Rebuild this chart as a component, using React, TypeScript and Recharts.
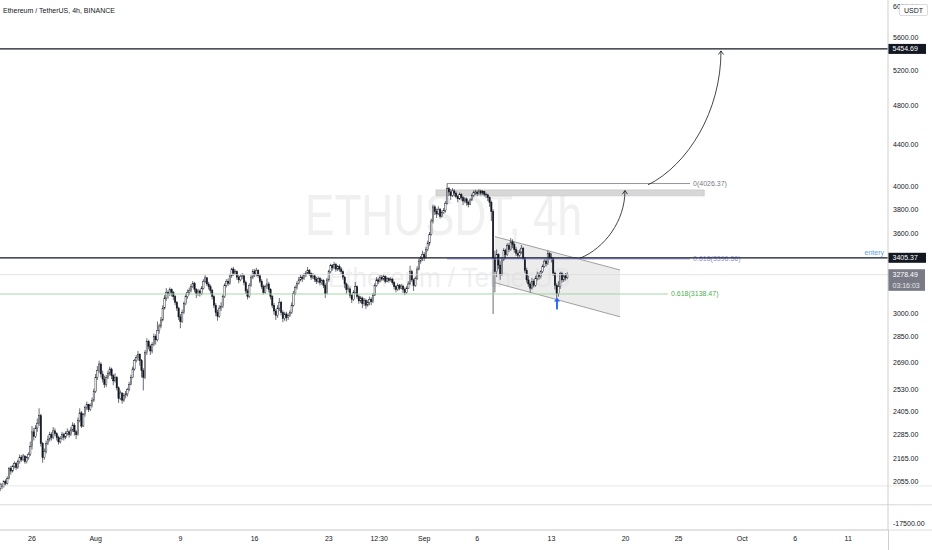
import React from 'react';
import { ComposedChart, Bar, Area, XAxis, YAxis, ReferenceLine, ReferenceArea } from 'recharts';

// time unit: days since 1 Jul 00:00; candles are 4h (1/6 day) starting 23 Jul 00:00
const startDay = 22;
const candleStep = 1 / 6;
const firstOpen = 2025;

const closes = [
  2040, 2032, 2055, 2048, 2070, 2118, // Jul 23
  2105, 2128, 2140, 2122, 2150, 2172, // Jul 24
  2160, 2178, 2150, 2170, 2185, 2225, // Jul 25
  2300, 2275, 2320, 2345, 2385, 2240, // Jul 26
  2170, 2200, 2240, 2262, 2285, 2270, // Jul 27
  2305, 2290, 2270, 2248, 2265, 2285, // Jul 28
  2272, 2290, 2300, 2285, 2310, 2335, // Jul 29
  2300, 2285, 2360, 2400, 2330, 2390, // Jul 30
  2430, 2445, 2418, 2440, 2470, 2520, // Jul 31
  2600, 2640, 2680, 2620, 2590, 2560, // Aug 1
  2600, 2625, 2650, 2610, 2580, 2600, // Aug 2
  2540, 2480, 2510, 2470, 2495, 2505, // Aug 3
  2530, 2560, 2600, 2650, 2700, 2720, // Aug 4
  2740, 2700, 2640, 2600, 2750, 2820, // Aug 5
  2790, 2760, 2800, 2850, 2830, 2890, // Aug 6
  2920, 2960, 3040, 3110, 3150, 3140, // Aug 7
  3170, 3150, 3120, 3080, 3040, 2980, // Aug 8
  2950, 3010, 3070, 3120, 3150, 3165, // Aug 9
  3190, 3215, 3170, 3140, 3160, 3142, // Aug 10
  3180, 3230, 3255, 3210, 3190, 3165, // Aug 11
  3120, 3060, 3010, 2985, 3040, 3050, // Aug 12
  3120, 3200, 3230, 3215, 3270, 3320, // Aug 13
  3290, 3300, 3260, 3240, 3265, 3270, // Aug 14
  3220, 3160, 3120, 3200, 3260, 3300, // Aug 15
  3280, 3310, 3270, 3230, 3190, 3150, // Aug 16
  3190, 3210, 3170, 3120, 3060, 3020, // Aug 17
  2990, 3040, 3080, 3010, 2970, 3000, // Aug 18
  2975, 2990, 3010, 3060, 3140, 3185, // Aug 19
  3215, 3240, 3260, 3250, 3275, 3290, // Aug 20
  3310, 3285, 3260, 3270, 3245, 3230, // Aug 21
  3250, 3220, 3235, 3200, 3140, 3240, // Aug 22
  3300, 3345, 3330, 3355, 3320, 3340, // Aug 23
  3320, 3300, 3260, 3210, 3170, 3175, // Aug 24
  3130, 3100, 3150, 3190, 3120, 3090, // Aug 25
  3110, 3070, 3095, 3060, 3080, 3100, // Aug 26
  3085, 3130, 3200, 3240, 3230, 3260, // Aug 27
  3245, 3265, 3230, 3250, 3235, 3245, // Aug 28
  3220, 3190, 3170, 3200, 3180, 3195, // Aug 29
  3170, 3150, 3180, 3210, 3300, 3240, // Aug 30
  3200, 3250, 3320, 3380, 3400, 3430, // Aug 31
  3410, 3470, 3520, 3590, 3700, 3820, // Sep 1
  3780, 3760, 3800, 3740, 3770, 3790, // Sep 2
  3850, 3980, 3950, 3920, 3960, 3940, // Sep 3
  3910, 3890, 3930, 3900, 3870, 3890, // Sep 4
  3860, 3840, 3880, 3920, 3945, 3950, // Sep 5
  3935, 3960, 3940, 3955, 3930, 3925, // Sep 6
  3900, 3860, 3780, 3400, 3300, 3430, // Sep 7
  3350, 3280, 3390, 3460, 3430, 3500, // Sep 8
  3470, 3530, 3510, 3470, 3440, 3425, // Sep 9
  3450, 3480, 3400, 3310, 3240, 3210, // Sep 10
  3180, 3230, 3200, 3250, 3280, 3265, // Sep 11
  3300, 3340, 3380, 3360, 3440, 3410, // Sep 12
  3400, 3290, 3200, 3140, 3190, 3285, // Sep 13
  3240, 3270, 3255, 3278.49,          // Sep 14
];

const highs = [
  2050, 2048, 2062, 2066, 2080, 2125,
  2130, 2135, 2152, 2148, 2160, 2185,
  2182, 2188, 2180, 2178, 2196, 2250,
  2330, 2320, 2335, 2370, 2425, 2395,
  2248, 2215, 2255, 2280, 2300, 2298,
  2325, 2318, 2298, 2280, 2278, 2300,
  2295, 2302, 2318, 2310, 2325, 2350,
  2345, 2310, 2375, 2425, 2410, 2400,
  2440, 2462, 2450, 2452, 2485, 2535,
  2620, 2668, 2700, 2690, 2640, 2610,
  2615, 2640, 2665, 2658, 2620, 2625,
  2608, 2548, 2525, 2515, 2510, 2522,
  2540, 2575, 2615, 2665, 2712, 2735,
  2760, 2745, 2710, 2655, 2765, 2840,
  2830, 2800, 2815, 2870, 2865, 2950,
  2935, 2980, 3060, 3130, 3180, 3165,
  3185, 3178, 3160, 3130, 3090, 3050,
  3000, 3030, 3085, 3140, 3170, 3185,
  3210, 3232, 3225, 3180, 3175, 3170,
  3195, 3245, 3275, 3262, 3225, 3205,
  3175, 3130, 3075, 3030, 3060, 3080,
  3135, 3215, 3245, 3250, 3285, 3330,
  3335, 3318, 3310, 3275, 3280, 3290,
  3280, 3235, 3175, 3215, 3275, 3320,
  3320, 3330, 3318, 3285, 3245, 3205,
  3205, 3250, 3225, 3180, 3130, 3075,
  3035, 3060, 3110, 3090, 3025, 3015,
  3015, 3005, 3025, 3080, 3160, 3200,
  3230, 3262, 3280, 3275, 3290, 3305,
  3335, 3320, 3295, 3290, 3280, 3262,
  3265, 3262, 3250, 3245, 3215, 3255,
  3315, 3360, 3358, 3375, 3365, 3350,
  3355, 3335, 3310, 3270, 3220, 3200,
  3190, 3140, 3165, 3225, 3200, 3135,
  3125, 3120, 3110, 3105, 3095, 3120,
  3115, 3145, 3215, 3260, 3255, 3275,
  3275, 3280, 3272, 3262, 3258, 3260,
  3255, 3230, 3200, 3215, 3210, 3210,
  3205, 3185, 3195, 3230, 3345, 3315,
  3250, 3265, 3340, 3400, 3420, 3460,
  3450, 3490, 3540, 3610, 3720, 3840,
  3835, 3805, 3825, 3810, 3790, 3810,
  3870, 4026.37, 3995, 3975, 3985, 3975,
  3955, 3925, 3945, 3940, 3915, 3905,
  3900, 3875, 3895, 3935, 3965, 3970,
  3965, 3975, 3970, 3968, 3962, 3945,
  3935, 3910, 3875, 3800, 3460, 3470,
  3440, 3380, 3410, 3480, 3475, 3520,
  3520, 3560, 3550, 3525, 3490, 3465,
  3470, 3505, 3490, 3410, 3330, 3270,
  3225, 3255, 3245, 3270, 3300, 3295,
  3310, 3355, 3395, 3400, 3462, 3450,
  3440, 3410, 3300, 3215, 3230, 3300,
  3300, 3285, 3290, 3295,
];

const lows = [
  2012, 2020, 2028, 2038, 2042, 2066,
  2088, 2098, 2118, 2110, 2115, 2140,
  2150, 2152, 2140, 2142, 2160, 2178,
  2210, 2255, 2268, 2300, 2330, 2225,
  2145, 2160, 2190, 2232, 2250, 2255,
  2262, 2278, 2255, 2235, 2240, 2258,
  2255, 2262, 2280, 2270, 2278, 2300,
  2280, 2262, 2280, 2350, 2320, 2325,
  2380, 2415, 2405, 2410, 2430, 2460,
  2510, 2585, 2625, 2600, 2570, 2540,
  2545, 2590, 2610, 2590, 2555, 2570,
  2525, 2455, 2470, 2450, 2460, 2480,
  2490, 2520, 2555, 2595, 2640, 2690,
  2700, 2670, 2600, 2525, 2590, 2735,
  2770, 2735, 2745, 2790, 2800, 2820,
  2870, 2905, 2950, 3030, 3090, 3105,
  3125, 3120, 3095, 3060, 3020, 2960,
  2905, 2940, 3000, 3060, 3105, 3130,
  3150, 3180, 3150, 3110, 3125, 3120,
  3130, 3170, 3215, 3195, 3170, 3140,
  3100, 3040, 2985, 2955, 2975, 3020,
  3040, 3110, 3185, 3195, 3205, 3255,
  3270, 3275, 3240, 3215, 3230, 3245,
  3200, 3140, 3100, 3110, 3190, 3245,
  3260, 3265, 3255, 3215, 3175, 3135,
  3140, 3175, 3150, 3100, 3040, 2995,
  2960, 2975, 3020, 2990, 2945, 2955,
  2950, 2960, 2980, 3000, 3050, 3130,
  3170, 3205, 3230, 3225, 3240, 3260,
  3280, 3270, 3240, 3245, 3225, 3210,
  3215, 3200, 3205, 3180, 3110, 3135,
  3225, 3290, 3310, 3320, 3300, 3305,
  3300, 3280, 3240, 3180, 3140, 3150,
  3110, 3075, 3090, 3140, 3105, 3070,
  3075, 3040, 3055, 3035, 3050, 3060,
  3060, 3075, 3125, 3190, 3210, 3220,
  3230, 3235, 3215, 3222, 3220, 3228,
  3205, 3170, 3150, 3160, 3165, 3172,
  3145, 3130, 3140, 3175, 3205, 3225,
  3160, 3190, 3240, 3310, 3360, 3380,
  3380, 3400, 3455, 3500, 3580, 3680,
  3750, 3725, 3750, 3720, 3730, 3760,
  3770, 3840, 3915, 3880, 3905, 3910,
  3895, 3860, 3880, 3875, 3835, 3850,
  3830, 3815, 3835, 3870, 3905, 3925,
  3915, 3925, 3920, 3925, 3910, 3895,
  3870, 3820, 3700, 3000, 3150, 3260,
  3320, 3240, 3270, 3380, 3400, 3420,
  3450, 3460, 3480, 3445, 3420, 3400,
  3410, 3435, 3390, 3290, 3220, 3190,
  3150, 3170, 3185, 3190, 3235, 3240,
  3250, 3290, 3330, 3340, 3350, 3390,
  3370, 3270, 3170, 3040, 3120, 3175,
  3220, 3225, 3235, 3245,
];

const dateTicks = [25, 31, 39, 46, 53, 57.75, 62, 67, 74, 81, 86, 92, 97, 102];
const dateLabels = ['26', 'Aug', '9', '16', '23', '12:30', 'Sep', '6', '13', '20', '25', 'Oct', '6', '11'];
const priceTicks = [6000, 5600, 5200, 4800, 4400, 4000, 3800, 3600, 3000, 2850, 2690, 2530, 2405, 2285, 2165, 2055];

const xDomain = [21.98, 105.755];
const yDomain = [1843, 6091];

const targetLevel = 5454.69;
const entryLevel = 3405.37;
const lastPrice = 3278.49;
const countdown = '03:16:03';
const fibTop = 4026.37;
const fibBlue = 3396.56;
const fibGreen = 3138.47;
const fibX = [64.15, 87.08];
const greenX = [21.98, 85.0];
const zoneX = [63.11, 88.42];
const zoneY = [3916, 3969];
const channel = [
  { t: 68.68, band: [3219, 3572] },
  { t: 80.47, band: [2981, 3313] },
];
const arrowUp = [{ x: 74.53, y: 3031 }, { x: 74.53, y: 3114 }];
const curve1 = [{ x: 76.7, y: 3402 }, { x: 80.94, y: 3963 }];
const curve2 = [{ x: 83.11, y: 4014 }, { x: 90.0, y: 5430 }];
const paneLine1 = 2036;
const paneLine2 = 1951;
const lowerPaneTick = 1869;
const lowerPaneLabel = '-17500.00';

const candles = closes.map((c, i) => ({
  t: startDay + i * candleStep,
  open: i === 0 ? firstOpen : closes[i - 1],
  close: c,
  high: highs[i],
  low: lows[i],
}));

const FONT = '"Liberation Sans", Arial, sans-serif';
const INK = '#131722';
const W = 932;
const H = 550;

const Candle = (props: any) => {
  const { x, y, width, height, payload } = props;
  if (!payload || y == null || height == null) return null;
  const top = Math.min(y, y + height);
  const bottom = Math.max(y, y + height);
  const lh = Math.log(payload.high);
  const ll = Math.log(payload.low);
  const py = (v: number) => top + ((bottom - top) * (lh - Math.log(v))) / (lh - ll);
  const cx = x + width / 2;
  const up = payload.close >= payload.open;
  const bTop = py(Math.max(payload.open, payload.close));
  const bBot = py(Math.min(payload.open, payload.close));
  const bw = 1.4;
  return (
    <g>
      <line x1={cx} x2={cx} y1={top} y2={bottom} stroke="#2a2e39" strokeWidth={0.7} />
      <rect
        x={cx - bw / 2}
        y={bTop}
        width={bw}
        height={Math.max(bBot - bTop, 0.7)}
        fill={up ? '#ffffff' : INK}
        stroke={INK}
        strokeWidth={0.45}
      />
    </g>
  );
};

const axisTag = (text: string, bg: string) => (props: any) => {
  const vb = props.viewBox || {};
  const x = vb.x + vb.width;
  const y = vb.y;
  return (
    <g>
      <rect x={x} y={y - 5} width={38} height={10} fill={bg} />
      <text x={x + 4.5} y={y + 2.5} fontSize={7} fontFamily={FONT} fill="#ffffff">{text}</text>
    </g>
  );
};

const entryTag = (props: any) => {
  const vb = props.viewBox || {};
  const x = vb.x + vb.width;
  const y = vb.y;
  return (
    <g>
      <text x={x - 4} y={y - 3} fontSize={7} fontFamily={FONT} fill="#5d9fe8" textAnchor="end">entery</text>
      <rect x={x} y={y - 5} width={38} height={10} fill={INK} />
      <text x={x + 4.5} y={y + 2.5} fontSize={7} fontFamily={FONT} fill="#ffffff">{entryLevel.toFixed(2)}</text>
    </g>
  );
};

const lastTag = (props: any) => {
  const vb = props.viewBox || {};
  const x = vb.x + vb.width;
  const y = vb.y;
  return (
    <g>
      <rect x={x} y={y - 5.4} width={37} height={21.6} fill="#787b86" />
      <text x={x + 4.5} y={y + 2.5} fontSize={7} fontFamily={FONT} fill="#ffffff">{lastPrice.toFixed(2)}</text>
      <text x={x + 4.5} y={y + 13} fontSize={7} fontFamily={FONT} fill="#e6e6e6">{countdown}</text>
    </g>
  );
};

const endLabel = (text: string, color: string) => (props: any) => {
  const vb = props.viewBox || {};
  const x = vb.x + vb.width;
  const y = vb.y;
  return (
    <text x={x + 3} y={y + 2.5} fontSize={7} fontFamily={FONT} fill={color}>{text}</text>
  );
};

const lowerPaneText = (props: any) => {
  const vb = props.viewBox || {};
  const x = vb.x + vb.width;
  return (
    <text x={x + 5} y={vb.y + 2.5} fontSize={7} fontFamily={FONT} fill={INK}>{lowerPaneLabel}</text>
  );
};

// pane borders run across the whole page width, price scale included
const wideLine = (color: string) => (props: any) => (
  <line x1={0} y1={props.y1} x2={W} y2={props.y2} stroke={color} strokeWidth={0.8} />
);

const curvedArrow = (props: any) => {
  const { x1, y1, x2, y2 } = props;
  const dx = x2 - x1;
  const dy = y1 - y2;
  const d = `M${x1},${y1} C${x1 + 0.55 * dx},${y1 - 0.15 * dy} ${x2},${y2 + 0.45 * dy} ${x2},${y2}`;
  return (
    <g>
      <path d={d} fill="none" stroke={INK} strokeWidth={0.8} />
      <path d={`M${x2 - 2.6},${y2 + 3.6} L${x2},${y2} L${x2 + 2.6},${y2 + 3.6}`} fill="none" stroke={INK} strokeWidth={0.8} />
    </g>
  );
};

const blueArrow = (props: any) => {
  const { x1, y1, x2, y2 } = props;
  return (
    <g>
      <line x1={x1} y1={y1} x2={x2} y2={y2 + 3} stroke="#2962ff" strokeWidth={1.8} />
      <path d={`M${x2 - 3},${y2 + 4} L${x2},${y2} L${x2 + 3},${y2 + 4} Z`} fill="#2962ff" />
    </g>
  );
};

const dateFormatter = (v: number) => {
  const i = dateTicks.indexOf(v);
  return i >= 0 ? dateLabels[i] : '';
};

export default function App() {
  return (
    <div style={{ position: 'absolute', left: 0, top: 0, width: W, height: H, background: '#ffffff', overflow: 'hidden' }}>
      <svg width={W} height={H} style={{ position: 'absolute', left: 0, top: 0 }}>
        <text x={305} y={235} fontSize={58} fontFamily={FONT} fill="#f0f0f0" textLength={277} lengthAdjust="spacingAndGlyphs">ETHUSDT, 4h</text>
        <text x={328} y={287} fontSize={27} fontFamily={FONT} fill="#f0f0f0" textLength={242} lengthAdjust="spacingAndGlyphs">Ethereum / TetherUS</text>
      </svg>
      <div style={{ position: 'absolute', left: 0, top: 0 }}>
        <ComposedChart width={W} height={H} data={candles} margin={{ top: 0, right: 0, bottom: 0, left: 0 }}>
          <XAxis
            dataKey="t"
            type="number"
            domain={xDomain}
            allowDataOverflow
            ticks={dateTicks}
            tickFormatter={dateFormatter}
            interval={0}
            height={20}
            tickLine={false}
            tickSize={5}
            tickMargin={1}
            axisLine={{ stroke: '#d6d6d6' }}
            tick={{ fontSize: 7, fill: INK, fontFamily: FONT }}
          />
          <YAxis
            orientation="right"
            scale="log"
            domain={yDomain}
            allowDataOverflow
            ticks={priceTicks}
            interval={0}
            width={44}
            tickLine={false}
            tickSize={5}
            tickMargin={0}
            axisLine={{ stroke: '#cfcfcf' }}
            tickFormatter={(v: number) => v.toFixed(2)}
            tick={{ fontSize: 7, fill: INK, fontFamily: FONT, textAnchor: 'start' }}
          />
          <ReferenceArea x1={zoneX[0]} x2={zoneX[1]} y1={zoneY[0]} y2={zoneY[1]} fill="#d7d7d7" fillOpacity={1} stroke="#bdbdbd" strokeWidth={0.6} ifOverflow="visible" />
          <Area
            data={channel}
            dataKey="band"
            type="linear"
            stroke="#8a8a8a"
            strokeWidth={0.8}
            fill="#d9d9d9"
            fillOpacity={0.5}
            dot={false}
            activeDot={false}
            isAnimationActive={false}
          />
          <ReferenceLine y={paneLine1} stroke="#e3e3e3" shape={wideLine('#e3e3e3')} />
          <ReferenceLine y={paneLine2} stroke="#cfcfcf" shape={wideLine('#cfcfcf')} />
          <ReferenceLine y={yDomain[0]} stroke="#d6d6d6" shape={wideLine('#d6d6d6')} />
          <ReferenceLine y={lowerPaneTick} stroke="none" label={lowerPaneText} />
          <ReferenceLine y={lastPrice} stroke="#dcdcdc" strokeWidth={0.8} label={lastTag} />
          <ReferenceLine
            segment={[{ x: greenX[0], y: fibGreen }, { x: greenX[1], y: fibGreen }]}
            stroke="#9bd39e"
            strokeWidth={0.9}
            label={endLabel(`0.618(${fibGreen.toFixed(2)})`, '#4caf50')}
          />
          <Bar dataKey={(d: any) => [d.low, d.high]} shape={Candle} barSize={1} isAnimationActive={false} />
          <ReferenceLine
            segment={[{ x: fibX[0], y: fibTop }, { x: fibX[1], y: fibTop }]}
            stroke="#787b86"
            strokeWidth={0.8}
            label={endLabel(`0(${fibTop.toFixed(2)})`, '#787b86')}
          />
          <ReferenceLine
            segment={[{ x: fibX[0], y: fibBlue }, { x: fibX[1], y: fibBlue }]}
            stroke="#9a9df0"
            strokeWidth={1}
            label={endLabel(`0.618(${fibBlue.toFixed(2)})`, '#8c90e6')}
          />
          <ReferenceLine y={targetLevel} stroke={INK} strokeWidth={1.2} label={axisTag(targetLevel.toFixed(2), INK)} />
          <ReferenceLine y={entryLevel} stroke={INK} strokeWidth={1.2} label={entryTag} />
          <ReferenceLine segment={curve1} shape={curvedArrow} />
          <ReferenceLine segment={curve2} shape={curvedArrow} />
          <ReferenceLine segment={arrowUp} shape={blueArrow} />
        </ComposedChart>
      </div>
      <svg width={W} height={H} style={{ position: 'absolute', left: 0, top: 0, pointerEvents: 'none' }}>
        <line x1={888.5} y1={530} x2={888.5} y2={H} stroke="#cfcfcf" strokeWidth={1} />
        <text x={3} y={13.2} fontSize={7} fontFamily={FONT} fill={INK}>Ethereum / TetherUS, 4h, BINANCE</text>
        <rect x={899.5} y={4.5} width={28} height={11} rx={1.5} fill="#ffffff" stroke="#c9cbd1" strokeWidth={0.7} />
        <text x={913.5} y={12.6} fontSize={7} fontFamily={FONT} fill={INK} textAnchor="middle">USDT</text>
      </svg>
    </div>
  );
}
